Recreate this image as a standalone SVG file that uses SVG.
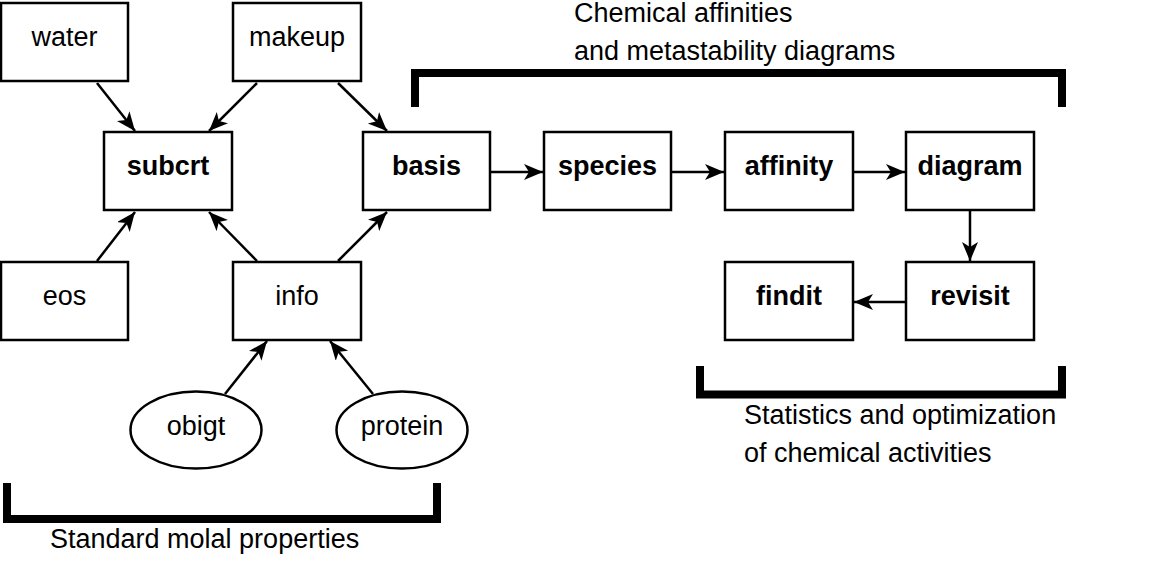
<svg xmlns="http://www.w3.org/2000/svg" width="1158" height="564" viewBox="0 0 1158 564">
<defs>
<marker id="ah" markerUnits="userSpaceOnUse" markerWidth="22" markerHeight="18" refX="19" refY="8" orient="auto">
<path d="M0,0 L19,8 L0,16 L5,8 Z" fill="#000"/>
</marker>
<style>
.box{fill:#fff;stroke:#000;stroke-width:2.5}
.t{font-family:"Liberation Sans",Arial,sans-serif;font-size:27px;fill:#000;text-anchor:middle}
.b{font-weight:bold}
.lbl{font-family:"Liberation Sans",Arial,sans-serif;font-size:27px;fill:#000}
.c{stroke:#000;stroke-width:2.5;fill:none;marker-end:url(#ah)}
.br{stroke:#000;stroke-width:8;fill:none;stroke-linejoin:miter;stroke-linecap:butt}
</style>
</defs>
<rect width="1158" height="564" fill="#fff"/>
<g id="connectors">
<line class="c" x1="97" y1="83" x2="135" y2="131"/>
<line class="c" x1="257" y1="83" x2="209" y2="131"/>
<line class="c" x1="338" y1="83" x2="387" y2="131"/>
<line class="c" x1="97" y1="261" x2="135" y2="212"/>
<line class="c" x1="257" y1="261" x2="209" y2="212"/>
<line class="c" x1="338" y1="261" x2="387" y2="212"/>
<line class="c" x1="225" y1="394" x2="267" y2="341"/>
<line class="c" x1="373" y1="394" x2="330" y2="341"/>
<line class="c" x1="491" y1="172" x2="543" y2="172"/>
<line class="c" x1="672" y1="172" x2="724" y2="172"/>
<line class="c" x1="853" y1="172" x2="905" y2="172"/>
<line class="c" x1="970" y1="211" x2="970" y2="261"/>
<line class="c" x1="906" y1="302" x2="854" y2="302"/>
</g>
<g id="water"><rect class="box" x="1" y="3" width="127" height="78"/><text class="t" x="64.5" y="46">water</text></g>
<g id="makeup"><rect class="box" x="233" y="3" width="128" height="78"/><text class="t" x="297" y="46">makeup</text></g>
<g id="subcrt"><rect class="box" x="104" y="132" width="128" height="78"/><text class="t b" x="168" y="175">subcrt</text></g>
<g id="basis"><rect class="box" x="363" y="132" width="127" height="78"/><text class="t b" x="426.5" y="175">basis</text></g>
<g id="species"><rect class="box" x="544" y="132" width="127" height="78"/><text class="t b" x="607.5" y="175">species</text></g>
<g id="affinity"><rect class="box" x="725" y="132" width="128" height="78"/><text class="t b" x="789" y="175">affinity</text></g>
<g id="diagram"><rect class="box" x="906" y="132" width="128" height="78"/><text class="t b" x="970" y="175">diagram</text></g>
<g id="eos"><rect class="box" x="1" y="262" width="127" height="78"/><text class="t" x="64.5" y="305">eos</text></g>
<g id="info"><rect class="box" x="233" y="262" width="128" height="78"/><text class="t" x="297" y="305">info</text></g>
<g id="findit"><rect class="box" x="725" y="262" width="128" height="78"/><text class="t b" x="789" y="305">findit</text></g>
<g id="revisit"><rect class="box" x="906" y="262" width="128" height="78"/><text class="t b" x="970" y="305">revisit</text></g>
<g id="obigt"><ellipse class="box" cx="196" cy="430" rx="65.5" ry="38.5"/><text class="t" x="196" y="435">obigt</text></g>
<g id="protein"><ellipse class="box" cx="402" cy="430" rx="65.5" ry="38.5"/><text class="t" x="402" y="435">protein</text></g>
<g id="brackets">
<path class="br" d="M415,107 V73 H1062 V107"/>
<path class="br" d="M7,483 V519 H437 V483"/>
<path class="br" d="M700,366 V394.5 H1062 V366"/>
</g>
<g id="labels">
<text class="lbl" x="574" y="22">Chemical affinities</text>
<text class="lbl" x="574" y="60">and metastability diagrams</text>
<text class="lbl" x="50" y="548">Standard molal properties</text>
<text class="lbl" x="744" y="424">Statistics and optimization</text>
<text class="lbl" x="744" y="462">of chemical activities</text>
</g>
</svg>
